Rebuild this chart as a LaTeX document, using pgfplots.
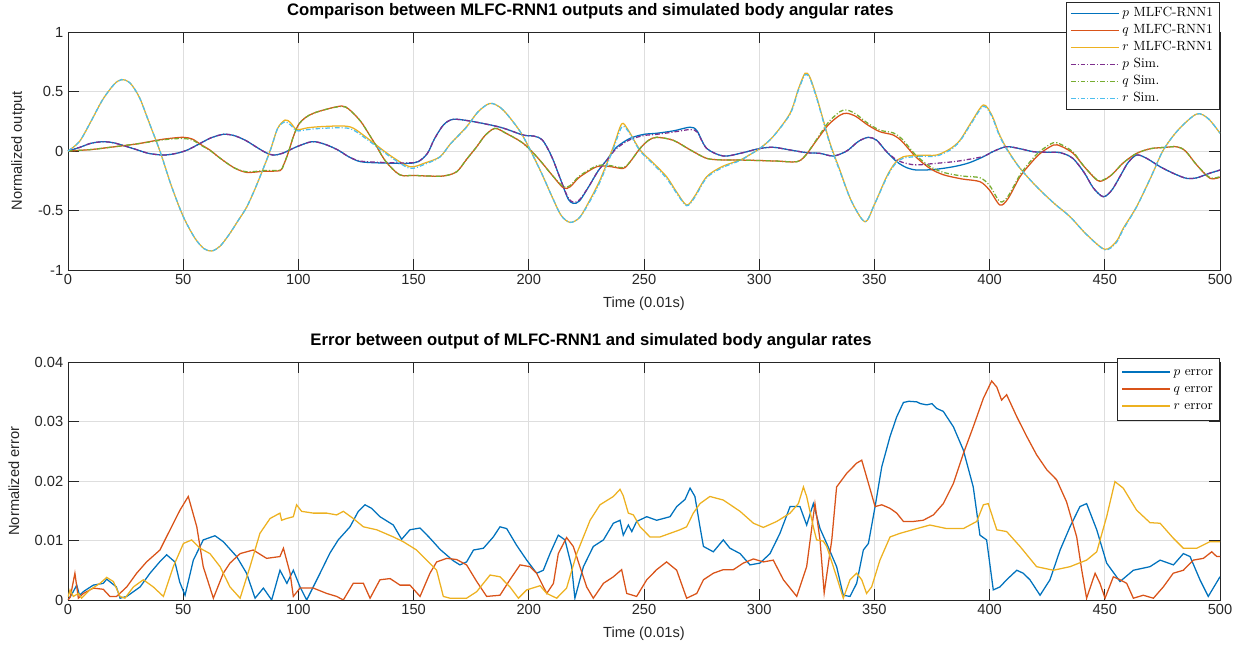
\documentclass[border=0pt]{standalone}
\usepackage{fontspec}
\setsansfont{Liberation Sans}
\usepackage{pgfplots}
\pgfplotsset{compat=1.18}

\definecolor{mblue}{RGB}{0,114,189}
\definecolor{morange}{RGB}{217,83,25}
\definecolor{myellow}{RGB}{237,177,32}
\definecolor{mpurple}{RGB}{126,47,142}
\definecolor{mgreen}{RGB}{119,172,48}
\definecolor{mcyan}{RGB}{77,190,238}
\definecolor{axgray}{RGB}{38,38,38}

\tikzset{
  simline/.style={line width=0.95pt, dash pattern=on 3.5pt off 1.5pt on 0.8pt off 1.5pt},
  netline/.style={line width=0.95pt, solid},
}

\pgfplotsset{
  matlab/.style={
    scale only axis, width=864pt, height=178.5pt,
    xmin=0, xmax=500, xtick={0,50,...,500},
    axis line style={draw=axgray, line width=0.6pt},
    tick style={draw=axgray, line width=0.6pt},
    major tick length=8.6pt,
    grid=major, major grid style={draw=black!13, line width=0.5pt},
    /pgf/number format/assume math mode=true,
    tick label style={font=\sffamily\fontsize{11}{13}\selectfont, text=axgray},
    label style={font=\sffamily\fontsize{11}{13}\selectfont, text=axgray},
    title style={font=\sffamily\bfseries\fontsize{12.5}{15}\selectfont, anchor=center, yshift=9.75pt},
    xlabel={Time (0.01s)},
    xlabel style={at={(axis description cs:0.5,0)}, anchor=center, yshift=-25.5pt},
    legend cell align=left,
    legend image code/.code={\draw[#1, line width=1.3pt] (0pt,0pt) -- (36pt,0pt);},
    legend style={fill=white, font=\rmfamily\fontsize{10}{12}\selectfont,
      anchor=north east, inner xsep=3pt,
      nodes={inner ysep=1.5pt, text height=7.5pt, text depth=2.25pt}},
  },
}

\begin{document}
\begin{tikzpicture}
\path[use as bounding box] (0pt,0pt) rectangle (932.25pt,484.5pt);

% ---------------- outputs vs simulation ----------------
\begin{axis}[matlab,
  at={(51pt,282pt)}, anchor=south west,
  ymin=-1, ymax=1, ytick={-1,-0.5,0,0.5,1},
  ylabel={Normalized output},
  ylabel style={at={(axis description cs:-0.0434,0.5)}, anchor=center},
  title={Comparison between MLFC-RNN1 outputs and simulated body angular rates},
  title style={at={(axis description cs:0.4535,1)}},
  legend style={at={(axis description cs:1,1.126)}, draw=axgray, inner ysep=2pt},
]
% p, network output
\addplot[draw=mblue, netline, smooth] coordinates {
(0,0) (5,0.03) (10,0.065) (15.3,0.078) (20,0.068) (25,0.04) (30,0.01) (35,-0.02)
(41.4,-0.034) (47,-0.02) (52,0.01) (57,0.06) (62,0.11) (67.4,0.14) (72,0.13) (77,0.09)
(82,0.03) (86,-0.015) (89,-0.034) (93,-0.02) (99.3,0.036) (105.8,0.078) (111,0.06)
(117,0.01) (122,-0.05) (127,-0.09) (135,-0.1) (147,-0.104) (152,-0.09) (156,-0.02)
(159,0.1) (163,0.22) (167.2,0.266) (175,0.25) (187.5,0.2) (197.6,0.134) (202,0.126)
(206,0.09) (210,-0.05) (214,-0.25) (217,-0.4) (219.3,-0.44) (222,-0.42) (226,-0.3)
(230,-0.17) (233.8,-0.076) (238,0.03) (243.9,0.106) (250,0.14) (255.5,0.149) (263,0.17)
(270,0.2) (273,0.17) (277.2,0.022) (284.4,-0.042) (291.7,-0.02) (300,0.02) (306.1,0.031)
(313,0.01) (320.6,-0.014) (326.4,-0.02) (332.2,-0.042) (338,0.0) (343,0.08) (347.4,0.115)
(351,0.09) (355,0.0) (359.7,-0.09) (364,-0.14) (368.4,-0.16) (376,-0.155) (384.3,-0.132)
(391,-0.1) (397.3,-0.048) (402,0.0) (407.4,0.036) (413,0.02) (419,-0.006) (425,-0.01)
(430.6,-0.014) (436,-0.06) (441,-0.18) (445,-0.31) (449.3,-0.384) (453,-0.33) (457,-0.2)
(460,-0.1) (463.8,-0.034) (468,-0.06) (474,-0.132) (480,-0.19) (485.5,-0.23) (490,-0.225)
(495,-0.19) (500,-0.16)
};
\addlegendentry{$p$ MLFC-RNN1}
% q, network output
\addplot[draw=morange, netline, smooth] coordinates {
(0,0) (10,0.012) (18.2,0.031) (30,0.06) (40,0.095) (44.3,0.106) (50,0.115) (54,0.1)
(58,0.05) (61.6,0.008) (66,-0.06) (72,-0.14) (77.6,-0.18) (85,-0.17) (92,-0.165)
(93.5,-0.12) (95.5,-0.02) (97.8,0.12) (100,0.22) (103,0.28) (106.5,0.317) (112,0.35)
(118.8,0.378) (122,0.35) (127,0.25) (131,0.13) (134,0.036) (138,-0.09) (144,-0.2)
(150,-0.205) (156,-0.21) (163,-0.21) (168.7,-0.174) (173,-0.07) (177.4,0.036) (181,0.13)
(185.3,0.19) (190,0.15) (197.6,0.064) (204,-0.06) (210,-0.2) (215,-0.31) (218,-0.3)
(222,-0.22) (229.5,-0.132) (235,-0.13) (241,-0.146) (244,-0.09) (248.3,0.022) (252,0.09)
(255.5,0.115) (262.7,0.09) (270,0.01) (277.2,-0.062) (284,-0.075) (291.7,-0.076)
(300,-0.08) (308,-0.085) (316.3,-0.09) (320,-0.04) (325,0.092) (330,0.22) (335,0.3)
(338,0.317) (342,0.29) (347,0.22) (352.4,0.162) (358.2,0.134) (362,0.08) (368,-0.05)
(374.1,-0.146) (380,-0.2) (388,-0.235) (395.8,-0.258) (400,-0.33) (404.5,-0.454)
(408,-0.4) (413.2,-0.216) (418,-0.1) (422,-0.02) (427.7,0.05) (431,0.04) (436.3,-0.02)
(441,-0.13) (446.5,-0.244) (449,-0.25) (453,-0.2) (458,-0.1) (463.8,-0.02) (470,0.02)
(476,0.03) (481.2,0.036) (485,0.0) (490,-0.12) (495.7,-0.23) (500,-0.22)
};
\addlegendentry{$q$ MLFC-RNN1}
% r, network output
\addplot[draw=myellow, netline, smooth] coordinates {
(0,0) (5,0.08) (10,0.25) (15,0.43) (20,0.56) (23.3,0.6) (27,0.57) (31,0.45) (35,0.25)
(40,-0.006) (45,-0.3) (50,-0.55) (55,-0.73) (59,-0.82) (62.4,-0.84) (66,-0.8) (70,-0.7)
(74,-0.58) (77.6,-0.47) (82,-0.28) (87.7,0.0) (91,0.19) (94.2,0.26) (96.5,0.24)
(99.3,0.18) (104,0.195) (110,0.205) (119.5,0.21) (124,0.19) (131,0.092) (140,-0.04)
(148.4,-0.132) (155,-0.1) (161.5,-0.048) (166,0.06) (173,0.204) (178,0.33) (183.2,0.4)
(188,0.36) (193,0.25) (197.6,0.12) (204.9,-0.16) (210,-0.38) (214,-0.54) (217.9,-0.6)
(222,-0.56) (226,-0.43) (230.9,-0.244) (236.7,0.036) (240.3,0.227) (243,0.18)
(248.3,0.008) (254,-0.1) (259.8,-0.216) (264,-0.34) (268.5,-0.454) (272,-0.38)
(277.2,-0.216) (284,-0.13) (291.7,-0.076) (296,-0.03) (300.3,0.022) (306,0.12)
(313.4,0.317) (317,0.52) (319.9,0.653) (322,0.62) (325,0.45) (327.8,0.26) (331,0.05)
(335,-0.16) (340,-0.42) (345.9,-0.594) (350,-0.45) (355.3,-0.216) (359,-0.1)
(362.6,-0.048) (370,-0.035) (377,-0.034) (383,0.02) (387.2,0.092) (392,0.24)
(397.3,0.387) (401,0.3) (404,0.15) (407.4,0.022) (413,-0.14) (420.4,-0.3) (428,-0.44)
(434.9,-0.552) (442,-0.7) (450,-0.826) (455,-0.76) (458,-0.65) (463.8,-0.468) (470,-0.22)
(475.4,0.008) (482,0.18) (489.9,0.311) (495,0.27) (500,0.149)
};
\addlegendentry{$r$ MLFC-RNN1}
% p, simulation
\addplot[draw=mpurple, simline, smooth] coordinates {
(0,0) (5,0.03) (10,0.065) (15.3,0.078) (20,0.068) (25,0.04) (30,0.01) (35,-0.02)
(41.4,-0.034) (47,-0.02) (52,0.01) (57,0.06) (62,0.11) (67.4,0.14) (72,0.13) (77,0.09)
(82,0.03) (86,-0.015) (89,-0.034) (93,-0.02) (99.3,0.036) (105.8,0.078) (111,0.06)
(117,0.01) (122,-0.05) (127,-0.085) (135,-0.095) (147,-0.1) (152,-0.088) (156,-0.02)
(159,0.1) (163,0.22) (167.2,0.266) (175,0.25) (187.5,0.2) (197.6,0.134) (202,0.126)
(206,0.09) (210,-0.05) (214,-0.25) (217,-0.39) (219.3,-0.43) (222,-0.41) (226,-0.3)
(230,-0.17) (233.8,-0.08) (238,0.02) (243.9,0.095) (250,0.13) (255.5,0.14) (263,0.16)
(270,0.18) (273,0.16) (277.2,0.022) (284.4,-0.042) (291.7,-0.02) (300,0.02) (306.1,0.031)
(313,0.01) (320.6,-0.014) (326.4,-0.02) (332.2,-0.042) (338,0.0) (343,0.08) (347.4,0.115)
(351,0.09) (355,0.0) (359.7,-0.075) (364,-0.105) (368.4,-0.117) (376,-0.105) (384.3,-0.09)
(391,-0.07) (397.3,-0.045) (402,0.0) (407.4,0.036) (413,0.02) (419,-0.006) (425,-0.01)
(430.6,-0.014) (436,-0.06) (441,-0.18) (445,-0.31) (449.3,-0.384) (453,-0.33) (457,-0.2)
(460,-0.1) (463.8,-0.034) (468,-0.06) (474,-0.132) (480,-0.19) (485.5,-0.23) (490,-0.225)
(495,-0.19) (500,-0.16)
};
\addlegendentry{$p$ Sim.}
% q, simulation
\addplot[draw=mgreen, simline, smooth] coordinates {
(0,0) (10,0.012) (18.2,0.031) (30,0.06) (40,0.09) (44.3,0.1) (50,0.105) (54,0.092)
(58,0.045) (61.6,0.005) (66,-0.06) (72,-0.14) (77.6,-0.175) (85,-0.165) (92,-0.16)
(93.5,-0.12) (95.5,-0.02) (97.8,0.12) (100,0.22) (103,0.28) (106.5,0.317) (112,0.35)
(118.8,0.375) (122,0.35) (127,0.25) (131,0.13) (134,0.036) (138,-0.09) (144,-0.2)
(150,-0.205) (156,-0.21) (163,-0.21) (168.7,-0.174) (173,-0.07) (177.4,0.036) (181,0.13)
(185.3,0.19) (190,0.15) (197.6,0.064) (204,-0.06) (210,-0.2) (215,-0.3) (218,-0.29)
(222,-0.21) (229.5,-0.125) (235,-0.122) (241,-0.14) (244,-0.09) (248.3,0.022) (252,0.09)
(255.5,0.115) (262.7,0.09) (270,0.01) (277.2,-0.062) (284,-0.075) (291.7,-0.076)
(300,-0.08) (308,-0.085) (316.3,-0.09) (320,-0.04) (325,0.1) (330,0.24) (335,0.33)
(338,0.345) (342,0.31) (347,0.235) (352.4,0.175) (358.2,0.152) (362,0.1) (368,-0.035)
(374.1,-0.13) (380,-0.18) (388,-0.21) (395.8,-0.225) (400,-0.29) (404.5,-0.426)
(408,-0.38) (413.2,-0.2) (418,-0.08) (422,0.0) (427.7,0.07) (431,0.055) (436.3,-0.01)
(441,-0.13) (446.5,-0.24) (449,-0.245) (453,-0.2) (458,-0.1) (463.8,-0.02) (470,0.02)
(476,0.03) (481.2,0.036) (485,0.0) (490,-0.12) (495.7,-0.225) (500,-0.215)
};
\addlegendentry{$q$ Sim.}
% r, simulation
\addplot[draw=mcyan, simline, smooth] coordinates {
(0,0) (5,0.08) (10,0.25) (15,0.43) (20,0.56) (23.3,0.6) (27,0.57) (31,0.45) (35,0.25)
(40,-0.006) (45,-0.3) (50,-0.55) (55,-0.73) (59,-0.82) (62.4,-0.84) (66,-0.8) (70,-0.7)
(74,-0.58) (77.6,-0.47) (82,-0.28) (87.7,0.0) (91,0.19) (94.2,0.245) (96.5,0.22)
(99.3,0.17) (104,0.18) (110,0.19) (119.5,0.195) (124,0.175) (131,0.08) (140,-0.05)
(148.4,-0.145) (155,-0.11) (161.5,-0.05) (166,0.06) (173,0.2) (178,0.33) (183.2,0.4)
(188,0.36) (193,0.25) (197.6,0.12) (204.9,-0.16) (210,-0.38) (214,-0.54) (217.9,-0.6)
(222,-0.56) (226,-0.44) (230.9,-0.26) (236.7,0.02) (240.3,0.2) (243,0.17)
(248.3,0.0) (254,-0.11) (259.8,-0.23) (264,-0.35) (268.5,-0.46) (272,-0.39)
(277.2,-0.225) (284,-0.14) (291.7,-0.08) (296,-0.03) (300.3,0.022) (306,0.12)
(313.4,0.31) (317,0.51) (319.9,0.64) (322,0.61) (325,0.44) (327.8,0.25) (331,0.04)
(335,-0.17) (340,-0.42) (345.9,-0.594) (350,-0.45) (355.3,-0.225) (359,-0.11)
(362.6,-0.06) (370,-0.045) (377,-0.042) (383,0.01) (387.2,0.085) (392,0.23)
(397.3,0.375) (401,0.29) (404,0.14) (407.4,0.015) (413,-0.14) (420.4,-0.3) (428,-0.44)
(434.9,-0.552) (442,-0.7) (450,-0.83) (455,-0.77) (458,-0.66) (463.8,-0.47) (470,-0.22)
(475.4,0.008) (482,0.18) (489.9,0.311) (495,0.27) (500,0.149)
};
\addlegendentry{$r$ Sim.}
\end{axis}

% ---------------- errors ----------------
\begin{axis}[matlab,
  at={(51pt,34.5pt)}, anchor=south west,
  ymin=0, ymax=0.04, ytick={0,0.01,0.02,0.03,0.04},
  scaled y ticks=false,
  yticklabel style={/pgf/number format/.cd, fixed, precision=2},
  ylabel={Normalized error},
  ylabel style={at={(axis description cs:-0.0469,0.5)}, anchor=center},
  title={Error between output of MLFC-RNN1 and simulated body angular rates},
  title style={at={(axis description cs:0.454,1)}},
  legend style={at={(axis description cs:1,1.017)}, draw=axgray, inner ysep=4pt},
]
\addplot[draw=mblue, netline] coordinates {
(0,0) (2,0.0012) (3.8,0.0025) (5,0.0008) (7,0.0015) (11,0.0025) (15.3,0.0028)
(16.8,0.0035) (21,0.0022) (22.6,0.0003) (25.5,0.0006) (31.3,0.0022) (35.6,0.0045)
(40,0.0065) (42.8,0.0076) (46.4,0.0064) (48.5,0.003) (50.8,0.0008) (54.4,0.0067)
(58.7,0.0101) (63.8,0.0108) (67.4,0.0098) (73.2,0.0073) (77.5,0.0045) (81.2,0.0003)
(84.8,0.002) (88.4,0) (92,0.005) (95,0.0028) (97.8,0.005) (100.7,0.0022) (103.6,0)
(109.4,0.0045) (113.7,0.0079) (117.3,0.0101) (122.4,0.0123) (126,0.0149) (128.9,0.016)
(131.8,0.0154) (135.4,0.014) (141.2,0.0126) (144.8,0.0102) (148.4,0.0118) (152.8,0.0121)
(157.1,0.0104) (161.5,0.0085) (167.2,0.0066) (170.1,0.0059) (173,0.0064) (176,0.0084)
(180.3,0.0087) (184.6,0.0106) (187.5,0.0123) (190.4,0.012) (194.7,0.0092) (199.1,0.0067)
(203.4,0.0045) (206.3,0.005) (209.2,0.0078) (212.8,0.0109) (215.7,0.0101) (218.6,0.0056)
(220,0.0003) (223.7,0.0056) (228,0.009) (232.4,0.0101) (236.7,0.0129) (239.6,0.0134)
(241,0.0109) (243.2,0.0126) (244.7,0.0115) (246.8,0.0132) (251.2,0.014) (255.5,0.0134)
(261.3,0.014) (264.2,0.0157) (267.8,0.0169) (270,0.0188) (272.1,0.0174) (274.3,0.0123)
(275.8,0.009) (280.1,0.0081) (284.4,0.0101) (287.3,0.0087) (291.7,0.0078) (296,0.0059)
(300.3,0.0062) (304.7,0.0078) (309,0.0112) (313.4,0.0157) (317.7,0.0157) (320.6,0.0126)
(323.5,0.0162) (326.4,0.012) (329.3,0.0095) (333.6,0.0056) (336.5,0.0008) (339.4,0.0006)
(342.3,0.0028) (345.2,0.0084) (347.4,0.0095) (350.3,0.0157) (353.2,0.0224) (356.8,0.0275)
(359.7,0.0308) (362.6,0.0332) (365,0.0334) (368.4,0.0333) (370,0.033) (372.7,0.0328)
(375,0.033) (377,0.0322) (379.9,0.0317) (384.3,0.0291) (388.6,0.0252) (392.9,0.019)
(395.8,0.0109) (398.7,0.0101) (401.6,0.0017) (404.5,0.0022) (407.4,0.0034) (411.8,0.005)
(414.6,0.0045) (417.5,0.0034) (421.9,0.0008) (426.2,0.0034) (430.6,0.0084) (434.9,0.0123)
(439.2,0.0157) (442.1,0.0162) (446.5,0.0118) (450.8,0.0062) (456.6,0.0031) (462.4,0.005)
(469.6,0.0056) (474,0.0067) (479.8,0.0059) (484.1,0.0078) (487,0.0073) (491.3,0.0034)
(494.9,0.0006) (500,0.0039)
};
\addlegendentry{$p$ error}
\addplot[draw=morange, netline] coordinates {
(0,0) (1,0.0005) (3,0.0045) (4.5,0.0003) (6.7,0.0011) (11,0.002) (15.3,0.0018)
(18.2,0.0006) (21.1,0.0006) (25.5,0.0022) (29.8,0.0045) (34.1,0.0064) (39.9,0.0084)
(44.3,0.0118) (48.6,0.0151) (52.2,0.0174) (55.9,0.0123) (58.7,0.0056) (63.1,0.0003)
(67.4,0.0045) (70.3,0.0062) (74.7,0.0078) (80.4,0.0084) (86.2,0.007) (92,0.0073)
(93.5,0.0087) (96.4,0.0045) (97.8,0.0006) (100.7,0.002) (106.5,0.002) (112.3,0.0011)
(116.6,0.0006) (119.5,0) (123.8,0.0028) (128.2,0.0028) (131.1,0.0003) (135.4,0.0034)
(139.8,0.0036) (144.1,0.0025) (148.4,0.0025) (152.8,0.0006) (157.1,0.0045) (160,0.0064)
(164.4,0.007) (168.7,0.0068) (173,0.0059) (177.4,0.0031) (181.7,0.0006) (187.5,0.0008)
(191.8,0.0034) (196.2,0.0059) (200.5,0.0056) (203.4,0.0045) (207.8,0.0011) (210.7,0.0028)
(212.8,0.0078) (216.4,0.0105) (219.3,0.009) (222.2,0.0056) (225.1,0.0022) (228,0.0003)
(232.4,0.0028) (236.7,0.0039) (240.3,0.0051) (242.5,0.0011) (246.8,0.0006) (251.2,0.0034)
(255.5,0.0051) (259.8,0.0064) (264.2,0.005) (268.5,0.0003) (272.9,0.0011) (275.8,0.0034)
(280.1,0.0045) (284.4,0.0051) (288.8,0.0051) (293.1,0.0062) (297.5,0.0069) (301.8,0.0064)
(306.1,0.0067) (310.5,0.0034) (316.3,0.0006) (320.6,0.0056) (324.2,0.0162) (326.4,0.0101)
(328.2,0.0012) (331.5,0.0101) (333.6,0.019) (338,0.0213) (342.3,0.023) (344.5,0.0235)
(346.6,0.0207) (350.3,0.0157) (353.2,0.016) (356.8,0.0154) (359.7,0.0146) (362.6,0.0132)
(366.9,0.0132) (371.2,0.0134) (375.6,0.0143) (379.9,0.0162) (384.3,0.0196) (388.6,0.0246)
(392.9,0.0291) (397.3,0.0339) (400.9,0.0368) (403.1,0.0358) (405.2,0.0336) (407.4,0.0345)
(411.8,0.0308) (416.1,0.0275) (420.4,0.0244) (424.8,0.0219) (429.1,0.0202) (433.4,0.0165)
(437.8,0.0106) (440,0.005) (442.1,0.0003) (445.8,0.0045) (447.9,0.0028) (450.1,0.0003)
(453.7,0.0039) (456.6,0.0034) (459.5,0.0028) (462.4,0.0003) (466.7,0.0008) (471.1,0.0003)
(475.4,0.0022) (479.7,0.0045) (484.1,0.005) (488.4,0.0067) (492.8,0.007) (496.4,0.0081)
(498.6,0.0073) (500,0.0073)
};
\addlegendentry{$q$ error}
\addplot[draw=myellow, netline] coordinates {
(0,0.0005) (0.9,0.0017) (2.3,0.0006) (4.5,0.0011) (5.9,0.0003) (9.5,0.0017) (13.9,0.0028)
(16.8,0.0038) (19.7,0.0031) (22.6,0.0006) (24.7,0.0003) (28.4,0.0022) (32.7,0.0034)
(37,0.0022) (41.4,0.0006) (45.7,0.0056) (50.1,0.0095) (53.7,0.0101) (57.3,0.0087)
(61.6,0.0078) (66,0.0056) (70.3,0.0022) (74.7,0.0003) (79,0.0056) (83.3,0.0112)
(87.7,0.0137) (92,0.0146) (92.7,0.0134) (94.9,0.0137) (97.8,0.014) (99.2,0.016)
(101.4,0.0149) (106.5,0.0146) (112.3,0.0146) (116.6,0.0143) (119.5,0.0149) (123.8,0.0137)
(128.2,0.0123) (134,0.0118) (141.2,0.0106) (145.5,0.0098) (151.3,0.0084) (155.7,0.0067)
(160,0.005) (162.9,0.0006) (165.8,0.0003) (173,0.0003) (177.4,0.0014) (183.2,0.0042)
(187.5,0.0039) (191.8,0.0022) (195.5,0.0003) (199.1,0.0017) (204.9,0.0024) (207.8,0.0011)
(212.1,0.0003) (216.4,0.002) (220.8,0.0078) (226.6,0.0134) (230.9,0.016) (236.7,0.0174)
(239.6,0.0186) (241,0.0175) (243.2,0.0146) (245.4,0.0143) (248.3,0.0123) (252.6,0.0106)
(257,0.0106) (261.3,0.0112) (265.6,0.0118) (268.5,0.0123) (271.4,0.0146) (274.3,0.0162)
(278.6,0.0174) (284.4,0.0168) (291.7,0.0149) (297.5,0.0129) (301.8,0.0122) (307.6,0.0132)
(313.4,0.0146) (317,0.0162) (319.2,0.019) (320.6,0.0174) (323.5,0.0123) (324.9,0.0101)
(327.8,0.0099) (329.3,0.009) (333.6,0.0039) (336.5,0.0003) (339.4,0.0034) (342.3,0.0045)
(344.5,0.0034) (346.6,0.0011) (348.8,0.0022) (352.4,0.0067) (356.8,0.0106) (361.1,0.0112)
(368.4,0.012) (374.1,0.0126) (381.4,0.012) (388.6,0.012) (394.4,0.0132) (397.3,0.016)
(399.4,0.0162) (403.1,0.0118) (407.4,0.0115) (413.2,0.009) (420.4,0.0056) (427.7,0.005)
(434.9,0.0056) (442.1,0.0067) (446.5,0.0081) (450.8,0.014) (454.4,0.0199) (458,0.0188)
(463.8,0.0151) (469.6,0.013) (474,0.0129) (479.7,0.0104) (484.1,0.0087) (489.9,0.0087)
(495.6,0.0098) (500,0.0098)
};
\addlegendentry{$r$ error}
\end{axis}
\end{tikzpicture}
\end{document}
